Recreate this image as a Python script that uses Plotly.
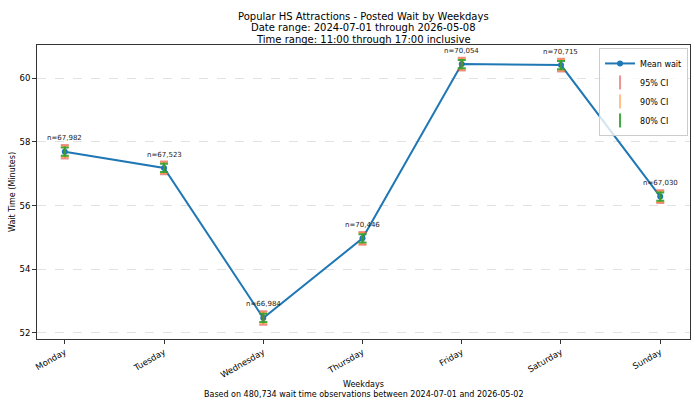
import plotly.graph_objects as go

# Values
days = ['Monday', 'Tuesday', 'Wednesday', 'Thursday', 'Friday', 'Saturday', 'Sunday']
mean_wait = [57.69, 57.18, 52.47, 54.97, 60.44, 60.41, 56.28]
ci95 = [0.21, 0.20, 0.21, 0.20, 0.20, 0.20, 0.20]
ci90 = [0.17, 0.17, 0.17, 0.17, 0.17, 0.17, 0.17]
ci80 = [0.13, 0.13, 0.13, 0.13, 0.13, 0.13, 0.13]
counts = [67982, 67523, 66984, 70446, 70054, 70715, 67030]
title_lines = [
    'Popular HS Attractions - Posted Wait by Weekdays',
    'Date range: 2024-07-01 through 2026-05-08',
    'Time range: 11:00 through 17:00 inclusive',
]

FONT = 'DejaVu Sans'
BLUE = '#1f77b4'
CI_STYLES = [
    ('95% CI', ci95, 'rgba(214,39,40,0.5)'),
    ('90% CI', ci90, 'rgba(255,127,14,0.5)'),
    ('80% CI', ci80, 'rgba(44,160,44,0.9)'),
]

x_idx = list(range(len(days)))

fig = go.Figure()

fig.add_trace(go.Scatter(
    x=x_idx, y=mean_wait, name='Mean wait',
    mode='lines+markers',
    line=dict(color=BLUE, width=2),
    marker=dict(color=BLUE, size=6),
))

# error bars only, legend handled by dummy traces below
for name, ci, color in CI_STYLES:
    fig.add_trace(go.Scatter(
        x=x_idx, y=mean_wait, mode='markers',
        marker=dict(size=0.1, color='rgba(0,0,0,0)'),
        error_y=dict(type='data', array=ci, color=color, thickness=2, width=4),
        showlegend=False, hoverinfo='skip',
    ))

for name, ci, color in CI_STYLES:
    fig.add_trace(go.Scatter(
        x=[None], y=[None], name=name, mode='markers',
        marker=dict(symbol='line-ns-open', size=10, color=color,
                    line=dict(color=color, width=2)),
    ))

for i, n in enumerate(counts):
    fig.add_annotation(
        x=i, y=mean_wait[i] + ci95[i], text=f'n={n:,}',
        showarrow=False, yanchor='bottom', yshift=1,
        font=dict(family=FONT, size=7, color='#222'),
    )

# title as three stacked lines (tighter spacing than plotly's <br>)
for k, line in enumerate(title_lines):
    fig.add_annotation(
        x=0.5, y=1, xref='paper', yref='paper', text=line,
        showarrow=False, yanchor='middle', yshift=29 - 11.5 * k,
        font=dict(family=FONT, size=10, color='black'),
    )

fig.add_annotation(
    x=0, y=0.5, xref='paper', yref='paper', text='Wait Time (Minutes)',
    showarrow=False, textangle=-90, xanchor='center', xshift=-25,
    font=dict(family=FONT, size=8, color='black'),
)
fig.add_annotation(
    x=0.5, y=0, xref='paper', yref='paper', text='Weekdays',
    showarrow=False, yanchor='middle', yshift=-45,
    font=dict(family=FONT, size=8, color='black'),
)
fig.add_annotation(
    x=0.5, y=0, xref='paper', yref='paper',
    text='Based on 480,734 wait time observations between 2024-07-01 and 2026-05-02',
    showarrow=False, yanchor='middle', yshift=-55,
    font=dict(family=FONT, size=8, color='black'),
)

fig.update_layout(
    width=700, height=408,
    margin=dict(l=37, r=10, t=45, b=69),
    plot_bgcolor='white', paper_bgcolor='white',
    font=dict(family=FONT, size=8, color='black'),
    xaxis=dict(
        tickmode='array', tickvals=x_idx, ticktext=days,
        range=[-0.28, 6.3], tickangle=-30, automargin=False,
        showgrid=False, zeroline=False,
        showline=True, linecolor='#333', linewidth=1, mirror=True,
        ticks='outside', ticklen=4, tickcolor='#333',
        tickfont=dict(family=FONT, size=8.5),
    ),
    yaxis=dict(
        range=[51.81, 61.04], dtick=2, automargin=False,
        showgrid=True, gridcolor='#e2e2e2', griddash='dash', gridwidth=1,
        zeroline=False,
        showline=True, linecolor='#333', linewidth=1, mirror=True,
        ticks='outside', ticklen=4, tickcolor='#333',
        tickfont=dict(family=FONT, size=8.5),
    ),
    legend=dict(
        x=0.997, y=0.99, xanchor='right', yanchor='top',
        bgcolor='rgba(255,255,255,0.8)', bordercolor='#cccccc', borderwidth=1,
        font=dict(family=FONT, size=8),
        tracegroupgap=0, itemwidth=30,
    ),
)

fig.write_html('out.html', config={'displayModeBar': False},
               post_script="document.body.style.margin='0';")
